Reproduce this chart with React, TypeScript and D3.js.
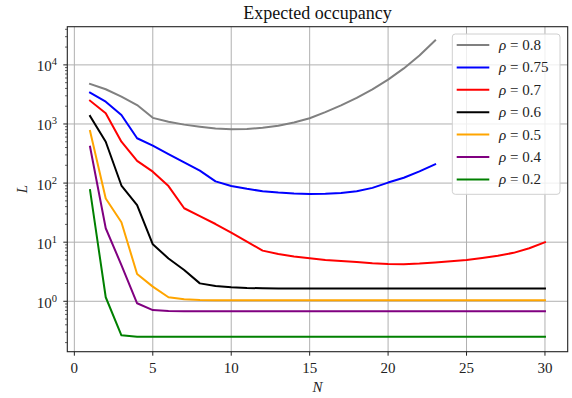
import React, { useEffect, useRef } from 'react';
import * as d3 from 'd3';

// values (L against N, one list per rho)
const rhoLabels = ['0.8', '0.75', '0.7', '0.6', '0.5', '0.4', '0.2'];
const lineColors = ['gray', 'blue', 'red', 'black', 'orange', 'purple', 'green'];

const L08 = [4750, 3870, 2900, 2090, 1270, 1090, 975, 900, 840, 813, 822, 861, 933, 1060, 1250, 1590, 2065, 2770, 3865, 5640, 8710, 14400, 25900];
const L075 = [3390, 2380, 1420, 573, 430, 309, 224, 162, 107, 89, 80, 73, 69, 66.5, 65.5, 66, 68, 73, 83, 102, 123, 158, 208];
const L07 = [2480, 1520, 502, 237, 156, 89, 37.5, 27.7, 20.3, 14.5, 10.2, 7.2, 6.3, 5.75, 5.34, 5.0, 4.8, 4.6, 4.4, 4.28, 4.25, 4.35, 4.55, 4.75, 5.0, 5.4, 5.9, 6.6, 7.9, 10];
const L06 = [1365, 500, 91, 42.5, 9.2, 5.3, 3.39, 2.01, 1.81, 1.73, 1.68, 1.66, 1.65, 1.65, 1.65, 1.65, 1.65, 1.65, 1.65, 1.65, 1.65, 1.65, 1.65, 1.65, 1.65, 1.65, 1.65, 1.65, 1.65, 1.65];
const L05 = [760, 55, 21.7, 2.9, 1.77, 1.17, 1.08, 1.05, 1.04, 1.04, 1.04, 1.04, 1.04, 1.04, 1.04, 1.04, 1.04, 1.04, 1.04, 1.04, 1.04, 1.04, 1.04, 1.04, 1.04, 1.04, 1.04, 1.04, 1.04, 1.04];
const L04 = [413, 17.2, 4.1, 0.925, 0.71, 0.686, 0.68, 0.68, 0.68, 0.68, 0.68, 0.68, 0.68, 0.68, 0.68, 0.68, 0.68, 0.68, 0.68, 0.68, 0.68, 0.68, 0.68, 0.68, 0.68, 0.68, 0.68, 0.68, 0.68, 0.68];
const L02 = [76, 1.17, 0.266, 0.252, 0.25, 0.25, 0.25, 0.25, 0.25, 0.25, 0.25, 0.25, 0.25, 0.25, 0.25, 0.25, 0.25, 0.25, 0.25, 0.25, 0.25, 0.25, 0.25, 0.25, 0.25, 0.25, 0.25, 0.25, 0.25, 0.25];

const xTicks = [0, 5, 10, 15, 20, 25, 30];
const yExponents = [0, 1, 2, 3, 4];

const W = 572, H = 398;
const FONT = '"Liberation Serif", "DejaVu Serif", serif';

const ExpectedOccupancy = () => {
  const ref = useRef(null);

  useEffect(() => {
    if (!ref.current) return;
    const svg = d3.select(ref.current);
    svg.selectAll('*').remove();

    const left = 67.3, right = 567.7, top = 26.7, bottom = 351.7;
    const x = d3.scaleLinear().domain([-0.45, 31.45]).range([left, right]);
    const y = d3.scaleLog().domain([Math.pow(10, -0.853), Math.pow(10, 4.646)]).range([bottom, top]);

    const series = [L08, L075, L07, L06, L05, L04, L02];

    // grid
    const grid = svg.append('g').attr('stroke', '#b0b0b0').attr('stroke-width', 1);
    xTicks.forEach(t => {
      grid.append('line').attr('x1', x(t)).attr('x2', x(t)).attr('y1', top).attr('y2', bottom);
    });
    yExponents.forEach(e => {
      grid.append('line').attr('x1', left).attr('x2', right)
        .attr('y1', y(Math.pow(10, e))).attr('y2', y(Math.pow(10, e)));
    });

    // lines
    const line = d3.line<number>()
      .x((_, i) => x(i + 1))
      .y(d => y(d));
    const plot = svg.append('g');
    series.forEach((s, i) => {
      plot.append('path')
        .attr('d', line(s))
        .attr('fill', 'none')
        .attr('stroke', lineColors[i])
        .attr('stroke-width', 2)
        .attr('stroke-linejoin', 'round')
        .attr('stroke-linecap', 'square');
    });

    // frame
    svg.append('rect')
      .attr('x', left).attr('y', top)
      .attr('width', right - left).attr('height', bottom - top)
      .attr('fill', 'none').attr('stroke', '#222').attr('stroke-width', 1.1);

    // x ticks
    const xAx = svg.append('g').attr('font-family', FONT).attr('font-size', 15).attr('fill', '#222');
    xTicks.forEach(t => {
      xAx.append('line').attr('x1', x(t)).attr('x2', x(t)).attr('y1', bottom).attr('y2', bottom + 4)
        .attr('stroke', '#222').attr('stroke-width', 1);
      xAx.append('text').attr('x', x(t)).attr('y', 372.5).attr('text-anchor', 'middle').text(t);
    });

    // y ticks (major + log minor)
    const yAx = svg.append('g').attr('font-family', FONT).attr('fill', '#222');
    const [d0, d1] = y.domain();
    for (let e = -1; e <= 4; e++) {
      for (let m = 1; m <= 9; m++) {
        const v = m * Math.pow(10, e);
        if (v < d0 || v > d1) continue;
        yAx.append('line')
          .attr('x1', left).attr('x2', left - (m === 1 ? 4 : 2.3))
          .attr('y1', y(v)).attr('y2', y(v))
          .attr('stroke', '#222').attr('stroke-width', m === 1 ? 1 : 0.7);
      }
    }
    yExponents.forEach(e => {
      const t = yAx.append('text')
        .attr('x', 57).attr('y', y(Math.pow(10, e)) + 6.5)
        .attr('text-anchor', 'end').attr('font-size', 15);
      t.append('tspan').text('10');
      t.append('tspan').attr('font-size', 10.5).attr('dy', -6).text(String(e));
    });

    // labels
    svg.append('text')
      .attr('x', (left + right) / 2).attr('y', 19)
      .attr('text-anchor', 'middle').attr('font-family', FONT).attr('font-size', 18).attr('fill', '#111')
      .text('Expected occupancy');
    svg.append('text')
      .attr('x', (left + right) / 2).attr('y', 392)
      .attr('text-anchor', 'middle').attr('font-family', FONT).attr('font-style', 'italic')
      .attr('font-size', 15).attr('fill', '#222')
      .text('N');
    svg.append('text')
      .attr('transform', `translate(27,${(top + bottom) / 2}) rotate(-90)`)
      .attr('text-anchor', 'middle').attr('font-family', FONT).attr('font-style', 'italic')
      .attr('font-size', 15).attr('fill', '#222')
      .text('L');

    // legend
    const lg = svg.append('g');
    lg.append('rect')
      .attr('x', 452.3).attr('y', 34).attr('width', 107.7).attr('height', 160.3)
      .attr('rx', 3).attr('fill', 'white').attr('fill-opacity', 0.8)
      .attr('stroke', '#d0d0d0').attr('stroke-width', 1);
    rhoLabels.forEach((r, i) => {
      const ly = 45 + i * 22.4;
      lg.append('line').attr('x1', 456.7).attr('x2', 489.3).attr('y1', ly).attr('y2', ly)
        .attr('stroke', lineColors[i]).attr('stroke-width', 2);
      const t = lg.append('text').attr('x', 499).attr('y', ly + 5)
        .attr('font-family', FONT).attr('font-size', 15).attr('fill', '#222');
      t.append('tspan').attr('font-style', 'italic').text('ρ');
      t.append('tspan').text(` = ${r}`);
    });
  }, []);

  return (
    <svg
      ref={ref}
      width={W}
      height={H}
      style={{ position: 'absolute', left: 0, top: 0, display: 'block', background: 'white' }}
    />
  );
};

export default function App() {
  return <ExpectedOccupancy />;
}
